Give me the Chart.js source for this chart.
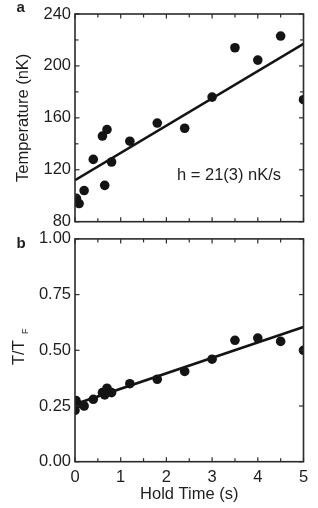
<!DOCTYPE html>
<html>
<head>
<meta charset="utf-8">
<script src="https://cdn.jsdelivr.net/npm/chart.js@4.4.1/dist/chart.umd.min.js"></script>
<style>
  html, body { margin: 0; padding: 0; background: #ffffff; }
  #wrap { position: relative; width: 318px; height: 508px; overflow: hidden; }
  canvas { position: absolute; left: 0; }
  #ca { top: 0; }
  #cb { top: 225px; }
</style>
</head>
<body>
<div id="wrap">
  <canvas id="ca" width="318" height="236"></canvas>
  <canvas id="cb" width="318" height="283"></canvas>
</div>
<script>
// ---- data ----
const holdTimeA = [0, 0.03, 0.09, 0.2, 0.4, 0.6, 0.65, 0.7, 0.8, 1.2, 1.8, 2.4, 3.0, 3.5, 4.0, 4.5, 5.0];
const tempA     = [96.5, 98, 94, 104, 128, 146, 108, 151, 126, 142, 156, 152, 176, 214, 204.5, 223, 174];
const holdTimeB = [0, 0.02, 0.05, 0.2, 0.4, 0.6, 0.65, 0.7, 0.8, 1.2, 1.8, 2.4, 3.0, 3.5, 4.0, 4.5, 5.0];
const ratioB    = [0.23, 0.275, 0.26, 0.25, 0.28, 0.31, 0.30, 0.33, 0.31, 0.35, 0.37, 0.405, 0.46, 0.545, 0.555, 0.54, 0.50];
const fitX = [0, 5];
const fitA = [112, 217];
const fitB = [0.258, 0.605];
const yTicksA = [80, 120, 160, 200, 240];
const yTicksB = ['0.00', '0.25', '0.50', '0.75', '1.00'];
const xTickLabels = ['0', '1', '2', '3', '4', '5'];

const FONT = "'Liberation Sans', Arial, Helvetica, sans-serif";
const TXT = '#1e1e1e';
const INK = '#141414';

const pts = (xs, ys) => xs.map((x, i) => ({ x: x, y: ys[i] }));

function makeFrame(id) {
  return {
    id: id,
    afterDraw(chart) {
      const { ctx, chartArea: a, scales } = chart;
      ctx.save();
      ctx.strokeStyle = '#2b2b2b';
      ctx.lineWidth = 1.2;
      const xs = scales.x, ys = scales.y;
      xs.ticks.forEach(t => {
        const px = xs.getPixelForValue(t.value);
        const len = Number.isInteger(t.value) ? 4.5 : 3.5;
        ctx.beginPath(); ctx.moveTo(px, a.bottom); ctx.lineTo(px, a.bottom - len); ctx.stroke();
        ctx.beginPath(); ctx.moveTo(px, a.top); ctx.lineTo(px, a.top + len); ctx.stroke();
      });
      ys.ticks.forEach(t => {
        const py = ys.getPixelForValue(t.value);
        const len = (t.label !== '' && t.label != null) ? 4.5 : 3.5;
        ctx.beginPath(); ctx.moveTo(a.left, py); ctx.lineTo(a.left + len, py); ctx.stroke();
        ctx.beginPath(); ctx.moveTo(a.right, py); ctx.lineTo(a.right - len, py); ctx.stroke();
      });
      ctx.lineWidth = 1.6;
      ctx.strokeRect(a.left, a.top, a.right - a.left, a.bottom - a.top);
      ctx.restore();
    }
  };
}

const textPluginA = {
  id: 'textA',
  afterDraw(chart) {
    const ctx = chart.ctx;
    ctx.save();
    ctx.fillStyle = TXT;
    ctx.textBaseline = 'alphabetic';
    ctx.textAlign = 'left';
    ctx.font = 'bold 15px ' + FONT;
    ctx.fillText('a', 16.5, 12);
    ctx.font = '16.5px ' + FONT;
    ctx.fillText('h = 21(3) nK/s', 177, 180);
    ctx.restore();
  }
};

const textPluginB = {
  id: 'textB',
  afterDraw(chart) {
    const ctx = chart.ctx;
    ctx.save();
    ctx.fillStyle = TXT;
    ctx.textBaseline = 'alphabetic';
    ctx.textAlign = 'left';
    ctx.font = 'bold 15px ' + FONT;
    ctx.fillText('b', 16.5, 23);
    ctx.translate(24, 140);
    ctx.rotate(-Math.PI / 2);
    ctx.font = '16.5px ' + FONT;
    ctx.fillText('T/T', 0, 0);
    ctx.font = '9px ' + FONT;
    ctx.fillText('F', 31, 3.5);
    ctx.restore();
  }
};

function scatterSet(data) {
  return {
    data: data, showLine: false, pointRadius: 4.8, pointHoverRadius: 4.8,
    pointBackgroundColor: INK, pointBorderWidth: 0, borderColor: INK, clip: 0, order: 1
  };
}
function fitSet(data) {
  return {
    data: data, showLine: true, pointRadius: 0, borderColor: INK, borderWidth: 2.6,
    fill: false, clip: 0, order: 0
  };
}

// ---- panel a ----
new Chart(document.getElementById('ca'), {
  type: 'scatter',
  data: { datasets: [ scatterSet(pts(holdTimeA, tempA)), fitSet(pts(fitX, fitA)) ] },
  options: {
    responsive: false, animation: false, devicePixelRatio: 1,
    layout: { padding: { top: 14, right: 14.5, left: 0, bottom: 0 } },
    plugins: { legend: { display: false }, tooltip: { enabled: false } },
    scales: {
      x: {
        type: 'linear', min: 0, max: 5,
        ticks: { stepSize: 0.5, display: false },
        grid: { display: false, drawTicks: false }, border: { display: false },
        afterFit: s => { s.height = 14.3; }
      },
      y: {
        type: 'linear', min: 80, max: 240,
        ticks: {
          stepSize: 20, padding: 4, color: TXT, font: { family: FONT, size: 16.5 },
          callback: v => yTicksA.includes(v) ? String(v) : ''
        },
        grid: { display: false, drawTicks: false }, border: { display: false },
        title: { display: true, text: 'Temperature (nK)', color: TXT,
                 font: { family: FONT, size: 16.5 }, padding: { top: 14, bottom: 0 } },
        afterFit: s => { s.width = 75; }
      }
    }
  },
  plugins: [ makeFrame('frameA'), textPluginA ]
});

// ---- panel b ----
new Chart(document.getElementById('cb'), {
  type: 'scatter',
  data: { datasets: [ scatterSet(pts(holdTimeB, ratioB)), fitSet(pts(fitX, fitB)) ] },
  options: {
    responsive: false, animation: false, devicePixelRatio: 1,
    layout: { padding: { top: 13, right: 14.5, left: 0, bottom: 0 } },
    plugins: { legend: { display: false }, tooltip: { enabled: false } },
    scales: {
      x: {
        type: 'linear', min: 0, max: 5,
        ticks: {
          stepSize: 0.5, padding: 6, color: TXT, font: { family: FONT, size: 16.5 },
          maxRotation: 0, autoSkip: false,
          callback: v => Number.isInteger(v) ? xTickLabels[v] : ''
        },
        grid: { display: false, drawTicks: false }, border: { display: false },
        title: { display: true, text: 'Hold Time (s)', color: TXT,
                 font: { family: FONT, size: 16.5 }, padding: { top: 0, bottom: 4 } },
        afterFit: s => { s.height = 46.3; }
      },
      y: {
        type: 'linear', min: 0, max: 1,
        ticks: {
          stepSize: 0.25, padding: 4, color: TXT, font: { family: FONT, size: 16.5 },
          callback: v => yTicksB[Math.round(v / 0.25)]
        },
        grid: { display: false, drawTicks: false }, border: { display: false },
        afterFit: s => { s.width = 75; }
      }
    }
  },
  plugins: [ makeFrame('frameB'), textPluginB ]
});
</script>
</body>
</html>
